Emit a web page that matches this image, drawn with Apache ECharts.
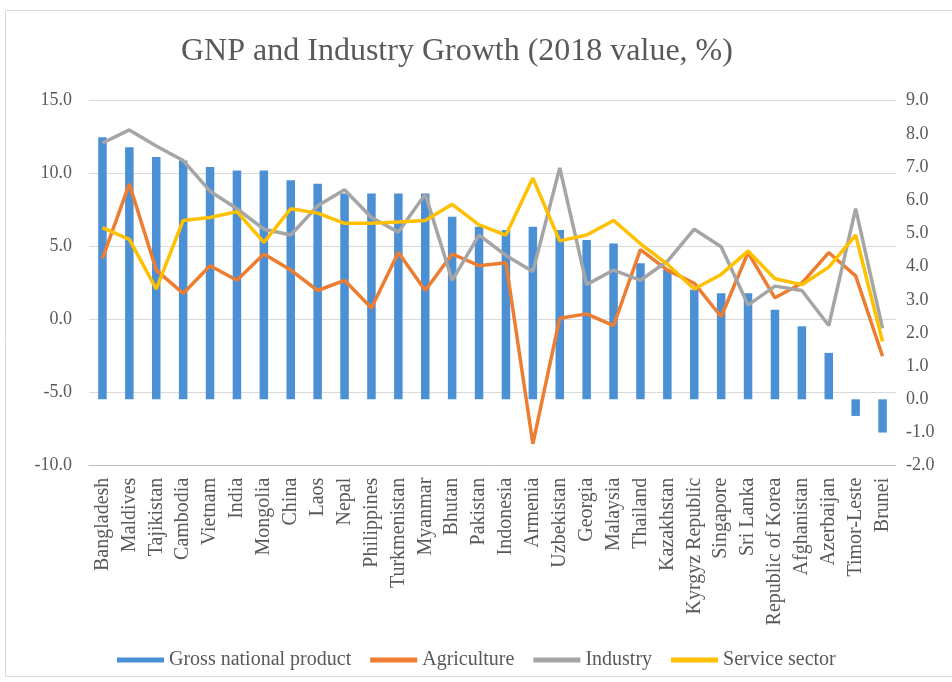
<!DOCTYPE html>
<html>
<head>
<meta charset="utf-8">
<script src="https://cdn.jsdelivr.net/npm/echarts@6/dist/echarts.min.js"></script>
<style>
  html, body { margin: 0; padding: 0; background: #ffffff; }
  #chart { width: 952px; height: 682px; }
</style>
</head>
<body>
<div id="chart"></div>
<script>
// Economies, ordered by 2018 GNP growth
var categories = ['Bangladesh', 'Maldives', 'Tajikistan', 'Cambodia', 'Vietnam', 'India', 'Mongolia', 'China', 'Laos', 'Nepal',
  'Philippines', 'Turkmenistan', 'Myanmar', 'Bhutan', 'Pakistan', 'Indonesia', 'Armenia', 'Uzbekistan', 'Georgia', 'Malaysia',
  'Thailand', 'Kazakhstan', 'Kyrgyz Republic', 'Singapore', 'Sri Lanka', 'Republic of Korea', 'Afghanistan', 'Azerbaijan', 'Timor-Leste', 'Brunei'];

// Gross national product growth, % (right axis)
var gnp = [7.9, 7.6, 7.3, 7.2, 7.0, 6.9, 6.9, 6.6, 6.5, 6.2,
  6.2, 6.2, 6.2, 5.5, 5.2, 5.1, 5.2, 5.1, 4.8, 4.7,
  4.1, 3.9, 3.3, 3.2, 3.2, 2.7, 2.2, 1.4, -0.5, -1.0];

// Sector growth, % (left axis)
var agriculture = [4.2, 9.3, 3.4, 1.8, 3.7, 2.7, 4.5, 3.4, 2.0, 2.7,
  0.8, 4.6, 2.0, 4.5, 3.7, 3.9, -8.5, 0.1, 0.4, -0.4,
  4.8, 3.4, 2.5, 0.2, 4.6, 1.5, 2.5, 4.6, 3.0, -2.5];
var industry = [12.1, 13.0, 11.9, 10.9, 8.8, 7.6, 6.2, 5.8, 7.8, 8.9,
  7.0, 6.0, 8.6, 2.7, 5.8, 4.4, 3.3, 10.4, 2.4, 3.4,
  2.7, 4.0, 6.2, 5.0, 1.0, 2.3, 2.0, -0.4, 7.6, -0.6];
var service = [6.3, 5.5, 2.1, 6.8, 7.0, 7.4, 5.3, 7.6, 7.3, 6.6,
  6.6, 6.7, 6.8, 7.9, 6.5, 5.8, 9.7, 5.4, 5.8, 6.8,
  5.2, 3.8, 2.1, 3.1, 4.7, 2.8, 2.4, 3.6, 5.8, -1.5];

var seriesNames = ['Gross national product', 'Agriculture', 'Industry', 'Service sector'];
var colors = ['#4b8fd5', '#ED7D31', '#A5A5A5', '#FFC000'];

var FONT = '"Liberation Serif", "Times New Roman", serif';
var TEXT = '#595959';

var chart = echarts.init(document.getElementById('chart'), null, { renderer: 'canvas' });

function lineSeries(name, data, color) {
  return {
    name: name,
    type: 'line',
    yAxisIndex: 0,
    data: data,
    showSymbol: false,
    symbol: 'none',
    lineStyle: { color: color, width: 3.5 },
    itemStyle: { color: color },
    animation: false
  };
}

chart.setOption({
  animation: false,
  color: colors,
  title: {
    text: 'GNP and Industry Growth (2018 value, %)',
    left: 176,
    top: 31,
    textStyle: { fontFamily: FONT, fontSize: 32, fontWeight: 'normal', color: TEXT }
  },
  graphic: [{
    type: 'rect',
    shape: { x: 5.5, y: 10.5, width: 950, height: 666 },
    style: { fill: 'none', stroke: '#d9d9d9', lineWidth: 1 },
    silent: true
  }],
  legend: {
    left: 112,
    top: 645,
    itemGap: 19,
    itemWidth: 47,
    itemHeight: 5,
    icon: 'rect',
    textStyle: { fontFamily: FONT, fontSize: 20, color: TEXT },
    data: seriesNames
  },
  grid: { left: 89, right: 56, top: 100.7, bottom: 216.3, containLabel: false },
  xAxis: {
    type: 'category',
    data: categories,
    axisLine: { onZero: false, lineStyle: { color: '#bfbfbf', width: 1 } },
    axisTick: { show: false },
    axisLabel: {
      interval: 0,
      rotate: 90,
      margin: 12,
      fontFamily: FONT,
      fontSize: 20,
      color: TEXT
    }
  },
  yAxis: [{
    type: 'value',
    min: -10,
    max: 15,
    interval: 5,
    position: 'left',
    axisLine: { show: false },
    axisTick: { show: false },
    splitLine: { lineStyle: { color: '#d9d9d9', width: 1 } },
    axisLabel: {
      margin: 17,
      fontFamily: FONT,
      fontSize: 18,
      color: TEXT,
      formatter: function (v) { return v.toFixed(1); }
    }
  }, {
    type: 'value',
    min: -2,
    max: 9,
    interval: 1,
    position: 'right',
    axisLine: { show: false },
    axisTick: { show: false },
    splitLine: { show: false },
    axisLabel: {
      margin: 10,
      fontFamily: FONT,
      fontSize: 18,
      color: TEXT,
      formatter: function (v) { return v.toFixed(1); }
    }
  }],
  series: [{
    name: seriesNames[0],
    type: 'bar',
    yAxisIndex: 1,
    data: gnp,
    barWidth: 8.5,
    itemStyle: { color: colors[0] },
    animation: false
  },
  lineSeries(seriesNames[1], agriculture, colors[1]),
  lineSeries(seriesNames[2], industry, colors[2]),
  lineSeries(seriesNames[3], service, colors[3])]
});
</script>
</body>
</html>
